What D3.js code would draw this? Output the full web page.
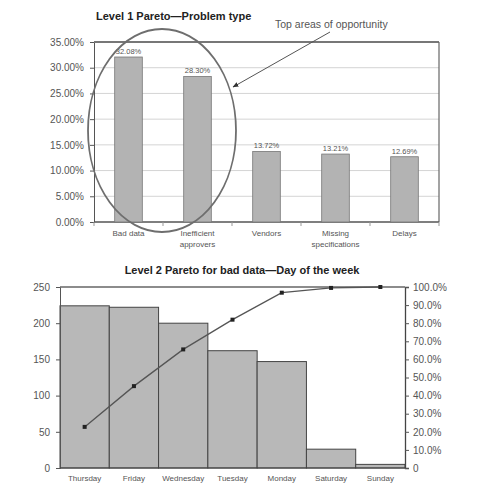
<!DOCTYPE html>
<html>
<head>
<meta charset="utf-8">
<script src="https://cdn.jsdelivr.net/npm/d3@7"></script>
<style>
  html, body { margin: 0; padding: 0; background: #fff; }
  svg { display: block; font-family: "Liberation Sans", Arial, sans-serif; }
</style>
</head>
<body>
<svg id="chart" width="480" height="486"></svg>
<script>
// Level 1: share of problems by type (percent)
const problemTypes = [["Bad data"], ["Inefficient", "approvers"], ["Vendors"], ["Missing", "specifications"], ["Delays"]];
const problemShare = [32.08, 28.30, 13.72, 13.21, 12.69];
const shareTicks = [0, 5, 10, 15, 20, 25, 30, 35];

// Level 2: bad-data counts by day of the week
const days = ["Thursday", "Friday", "Wednesday", "Tuesday", "Monday", "Saturday", "Sunday"];
const dayCounts = [224, 222, 200, 162, 147, 26, 5];
const countTicks = [0, 50, 100, 150, 200, 250];
const cumTicks = [0, 0.1, 0.2, 0.3, 0.4, 0.5, 0.6, 0.7, 0.8, 0.9, 1.0];

const svg = d3.select("#chart");
const textColor = "#555";
const axisColor = "#555";

// ---------- Level 1 chart ----------
const t = { left: 94, right: 439, top: 42, bottom: 222 };
const x1 = d3.scaleBand().domain(problemTypes.map((d, i) => i)).range([t.left, t.right])
  .paddingInner(0.6).paddingOuter(0.3);
const y1 = d3.scaleLinear().domain([0, 35]).range([t.bottom, t.top]);

const upper = svg.append("g");

// gridlines
upper.append("g").selectAll("line").data(shareTicks.slice(1, -1)).join("line")
  .attr("x1", t.left).attr("x2", t.right)
  .attr("y1", d => y1(d)).attr("y2", d => y1(d))
  .attr("stroke", "#d4d4d4").attr("stroke-width", 1);

// left axis
const yAxis1 = d3.axisLeft(y1).tickValues(shareTicks).tickSize(4).tickPadding(6)
  .tickFormat(d => d.toFixed(2) + "%");
const ya1 = upper.append("g").attr("transform", `translate(${t.left},0)`).call(yAxis1);
ya1.select(".domain").attr("stroke", axisColor);
ya1.selectAll(".tick line").attr("stroke", axisColor);
ya1.selectAll("text").attr("fill", textColor).style("font-size", "10px");

// frame
upper.append("line").attr("x1", t.left).attr("x2", t.right).attr("y1", t.top).attr("y2", t.top)
  .attr("stroke", "#777").attr("stroke-width", 2);
upper.append("line").attr("x1", t.right).attr("x2", t.right).attr("y1", t.top).attr("y2", t.bottom)
  .attr("stroke", "#666").attr("stroke-width", 1.2);
upper.append("line").attr("x1", t.left).attr("x2", t.right).attr("y1", t.bottom).attr("y2", t.bottom)
  .attr("stroke", "#555").attr("stroke-width", 1.5);

// category boundary tick marks
const step1 = x1.step();
const firstEdge = x1(0) - (step1 - x1.bandwidth()) / 2;
upper.append("g").selectAll("line").data(d3.range(problemTypes.length + 1)).join("line")
  .attr("x1", i => firstEdge + i * step1).attr("x2", i => firstEdge + i * step1)
  .attr("y1", t.bottom).attr("y2", t.bottom + 4)
  .attr("stroke", "#999");

// bars
upper.append("g").selectAll("rect").data(problemShare).join("rect")
  .attr("x", (d, i) => x1(i)).attr("width", x1.bandwidth())
  .attr("y", d => y1(d)).attr("height", d => y1(0) - y1(d))
  .attr("fill", "#b3b3b3").attr("stroke", "#777").attr("stroke-width", 0.8);

// value labels
upper.append("g").selectAll("text").data(problemShare).join("text")
  .attr("x", (d, i) => x1(i) + x1.bandwidth() / 2).attr("y", d => y1(d) - 3)
  .attr("text-anchor", "middle").attr("fill", textColor).style("font-size", "7.5px")
  .text(d => d.toFixed(2) + "%");

// category labels
upper.append("g").selectAll("text").data(problemTypes).join("text")
  .attr("x", (d, i) => x1(i) + x1.bandwidth() / 2).attr("y", t.bottom + 14)
  .attr("text-anchor", "middle").attr("fill", textColor).style("font-size", "8px")
  .each(function (lines) {
    const el = d3.select(this);
    el.selectAll("tspan").data(lines).join("tspan")
      .attr("x", el.attr("x")).attr("dy", (d, j) => j ? 11 : 0).text(d => d);
  });

// title
upper.append("text").attr("x", 96).attr("y", 20).attr("fill", "#222")
  .style("font-size", "11px").style("font-weight", "bold")
  .text("Level 1 Pareto\u2014Problem type");

// highlight ellipse around the two leading categories
upper.append("ellipse").attr("cx", 162).attr("cy", 130.5).attr("rx", 74).attr("ry", 101.5)
  .attr("fill", "none").attr("stroke", "#6e6e6e").attr("stroke-width", 1.8);

// annotation + arrow
svg.append("defs").append("marker").attr("id", "arrowhead")
  .attr("viewBox", "0 0 10 10").attr("refX", 9).attr("refY", 5)
  .attr("markerWidth", 6).attr("markerHeight", 6).attr("orient", "auto")
  .append("path").attr("d", "M0,1 L10,5 L0,9 Z").attr("fill", "#333");
upper.append("line").attr("x1", 330).attr("y1", 32).attr("x2", 233).attr("y2", 87)
  .attr("stroke", "#555").attr("stroke-width", 1).attr("marker-end", "url(#arrowhead)");
upper.append("text").attr("x", 275).attr("y", 28).attr("fill", textColor)
  .style("font-size", "10.5px").text("Top areas of opportunity");

// ---------- Level 2 chart ----------
const b = { left: 60, right: 405, top: 287, bottom: 468 };
const x2 = d3.scaleBand().domain(days).range([b.left, b.right]).padding(0);
const y2 = d3.scaleLinear().domain([0, 250]).range([b.bottom, b.top]);
const yc = d3.scaleLinear().domain([0, 1]).range([b.bottom, b.top]);

const total = d3.sum(dayCounts);
const cumulative = Array.from(d3.cumsum(dayCounts), v => v / total);

const lower = svg.append("g");

lower.append("text").attr("x", 242).attr("y", 274).attr("text-anchor", "middle").attr("fill", "#222")
  .style("font-size", "11px").style("font-weight", "bold")
  .text("Level 2 Pareto for bad data\u2014Day of the week");

// bars
lower.append("g").selectAll("rect").data(dayCounts).join("rect")
  .attr("x", (d, i) => x2(days[i])).attr("width", x2.bandwidth())
  .attr("y", d => y2(d)).attr("height", d => y2(0) - y2(d))
  .attr("fill", "#b8b8b8").attr("stroke", "#444").attr("stroke-width", 1);

// left axis
const ya2 = lower.append("g").attr("transform", `translate(${b.left},0)`)
  .call(d3.axisLeft(y2).tickValues(countTicks).tickSize(4).tickPadding(6));
ya2.select(".domain").attr("stroke", axisColor);
ya2.selectAll(".tick line").attr("stroke", axisColor);
ya2.selectAll("text").attr("fill", textColor).style("font-size", "10px");

// right axis
const ya3 = lower.append("g").attr("transform", `translate(${b.right},0)`)
  .call(d3.axisRight(yc).tickValues(cumTicks).tickSize(4).tickPadding(4)
    .tickFormat(d => d === 0 ? "0" : d3.format(".1%")(d)));
ya3.select(".domain").attr("stroke", "#444").attr("stroke-width", 1.3);
ya3.selectAll(".tick line").attr("stroke", axisColor);
ya3.selectAll("text").attr("fill", textColor).style("font-size", "10px");

// frame top and baseline
lower.append("line").attr("x1", b.left).attr("x2", b.right).attr("y1", b.top).attr("y2", b.top)
  .attr("stroke", "#666").attr("stroke-width", 1.5);
lower.append("line").attr("x1", b.left).attr("x2", b.right).attr("y1", b.bottom).attr("y2", b.bottom)
  .attr("stroke", "#444").attr("stroke-width", 1.2);

// bottom axis labels
const xa2 = lower.append("g").attr("transform", `translate(0,${b.bottom})`)
  .call(d3.axisBottom(x2).tickSize(0).tickPadding(7));
xa2.select(".domain").remove();
xa2.selectAll("text").attr("fill", textColor).style("font-size", "8px");

// cumulative line
const line = d3.line().x((d, i) => x2(days[i]) + x2.bandwidth() / 2).y(d => yc(d));
lower.append("path").datum(cumulative).attr("d", line)
  .attr("fill", "none").attr("stroke", "#555").attr("stroke-width", 1.3);
lower.append("g").selectAll("rect").data(cumulative).join("rect")
  .attr("x", (d, i) => x2(days[i]) + x2.bandwidth() / 2 - 2)
  .attr("y", d => yc(d) - 2).attr("width", 4).attr("height", 4)
  .attr("fill", "#222");
</script>
</body>
</html>
